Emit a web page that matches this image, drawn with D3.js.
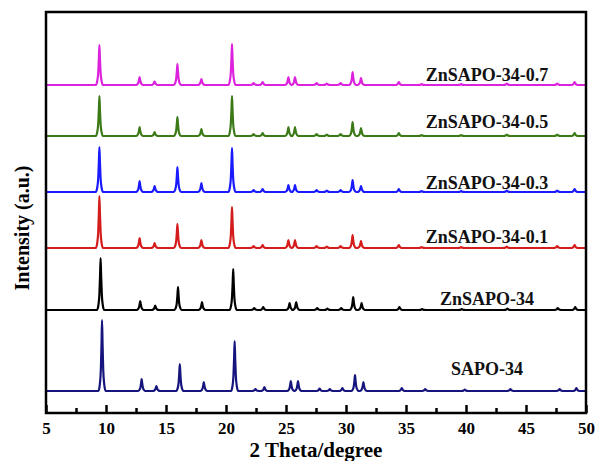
<!DOCTYPE html>
<html>
<head>
<meta charset="utf-8">
<script src="https://cdn.jsdelivr.net/npm/d3@7"></script>
<style>
  body { margin: 0; background: #fff; }
  text { font-family: "Liberation Serif", "Times New Roman", serif; font-weight: bold; }
</style>
</head>
<body>
<script>
// sample names, bottom to top
const names = ["SAPO-34", "ZnSAPO-34", "ZnSAPO-34-0.1", "ZnSAPO-34-0.3", "ZnSAPO-34-0.5", "ZnSAPO-34-0.7"];
// vertical stacking offset of each trace (a.u.)
const offsets = [22, 103, 165, 221, 277, 328];

// peak positions (2 theta)
const posSAPO = [9.67, 12.97, 14.2, 16.15, 18.15, 20.72, 22.45, 23.2, 25.4, 26.0, 27.8, 28.65, 29.7, 30.75, 31.45, 34.65, 36.6, 39.9, 43.7, 47.8, 49.2];
const posZnSAPO = [9.55, 12.85, 14.1, 16.0, 18.0, 20.6, 22.35, 23.1, 25.3, 25.85, 27.6, 28.45, 29.6, 30.6, 31.3, 34.45, 36.35, 39.65, 43.45, 47.65, 49.1];
const posZn = [9.45, 12.8, 14.05, 15.95, 17.95, 20.5, 22.3, 23.05, 25.2, 25.75, 27.55, 28.4, 29.55, 30.55, 31.25, 34.4, 36.3, 39.6, 43.4, 47.6, 49.05];

// peak heights (a.u.) above each baseline
const hSAPO    = [71, 12, 5, 27, 9, 50, 2, 4, 10, 10, 2.5, 2, 3, 16, 9, 3, 2, 1.5, 2, 2, 3];
const hZnSAPO  = [52, 9, 4.5, 23, 8, 41, 2, 3, 7, 8, 2, 1.5, 2, 13, 7, 3, 1, 1, 1.5, 2, 3];
const h01      = [52, 10, 5, 24, 8, 41, 2, 3, 8, 8, 2, 1.5, 2, 13, 7, 3, 1, 1, 1.5, 2, 3];
const h03      = [45, 11, 6, 25, 9, 44, 2, 3, 7, 7, 2, 1.5, 2, 12, 6, 3, 1, 1, 1.5, 1.5, 3];
const h05      = [40, 9, 4, 19, 7, 40, 2, 3, 9, 9, 2, 1.5, 2, 14, 8, 3, 1, 1, 1.5, 1.5, 3];
const h07      = [40, 8, 3.5, 21, 6, 41, 2, 3, 8, 8, 2, 1.5, 2, 13, 7, 3, 1, 1, 1.5, 1.5, 3];

const positions = [posSAPO, posZnSAPO, posZn, posZn, posZn, posZn];
const heights = [hSAPO, hZnSAPO, h01, h03, h05, h07];

// x tick labels
const majorTicks = [5, 10, 15, 20, 25, 30, 35, 40, 45, 50];
const minorTicks = [7.5, 12.5, 17.5, 22.5, 27.5, 32.5, 37.5, 42.5, 47.5];

// peak shape used for each reflection
const shapeDx = [-0.3, -0.18, -0.1, -0.045, 0, 0.045, 0.1, 0.18, 0.3];
const shapeF  = [0, 0.1, 0.3, 0.65, 1, 0.65, 0.3, 0.1, 0];

const colors = ["#15157d", "#000000", "#d41c1c", "#1a1aff", "#3c7a18", "#dd22dd"];
const labelLift = [16, 5, 5, 3, 8, 4];   // px above baseline

const width = 597, height = 461;
const plotLeft = 46, plotRight = 586, plotTop = 12, plotBottom = 413;

const svg = d3.select("body").append("svg")
    .attr("width", width)
    .attr("height", height);

svg.append("rect").attr("width", width).attr("height", height).attr("fill", "#fff");

const x = d3.scaleLinear().domain([5, 50]).range([plotLeft, plotRight]);
const y = d3.scaleLinear().domain([0, plotBottom - plotTop]).range([plotBottom, plotTop]);

const line = d3.line()
    .x(d => x(d[0]))
    .y(d => y(d[1]))
    .curve(d3.curveMonotoneX);

names.forEach((name, i) => {
    const base = offsets[i];
    let pts = [[5, base]];
    positions[i].forEach((p, k) => {
        shapeDx.forEach((dx, j) => pts.push([p + dx, base + heights[i][k] * shapeF[j]]));
    });
    pts.push([50, base]);
    pts.sort((a, b) => a[0] - b[0]);

    svg.append("path")
        .datum(pts)
        .attr("fill", "none")
        .attr("stroke", colors[i])
        .attr("stroke-width", 2.2)
        .attr("stroke-linejoin", "round")
        .attr("d", line);

    svg.append("text")
        .attr("x", 487)
        .attr("y", y(base) - labelLift[i])
        .attr("text-anchor", "middle")
        .attr("font-size", 18)
        .attr("fill", "#111")
        .text(name);
});

// ticks point inward
const axis = svg.append("g")
    .attr("transform", `translate(0,${plotBottom})`)
    .call(d3.axisBottom(x).tickValues(majorTicks).tickSize(-8).tickPadding(9).tickFormat(d3.format("d")));
axis.select(".domain").remove();
axis.selectAll("line").attr("stroke-width", 2.5);
axis.selectAll("text").attr("font-size", 17).attr("fill", "#000").attr("font-family", "Liberation Serif");

const minor = svg.append("g")
    .attr("transform", `translate(0,${plotBottom})`)
    .call(d3.axisBottom(x).tickValues(minorTicks).tickSize(-5).tickFormat(""));
minor.select(".domain").remove();
minor.selectAll("line").attr("stroke-width", 2.5);

svg.append("rect")
    .attr("x", plotLeft).attr("y", plotTop)
    .attr("width", plotRight - plotLeft).attr("height", plotBottom - plotTop)
    .attr("fill", "none")
    .attr("stroke", "#000")
    .attr("stroke-width", 2.5);

svg.append("text")
    .attr("x", 316).attr("y", 457)
    .attr("text-anchor", "middle")
    .attr("font-size", 21)
    .text("2 Theta/degree");

svg.append("text")
    .attr("transform", "translate(29,228) rotate(-90)")
    .attr("text-anchor", "middle")
    .attr("font-size", 20)
    .text("Intensity (a.u.)");
</script>
</body>
</html>
